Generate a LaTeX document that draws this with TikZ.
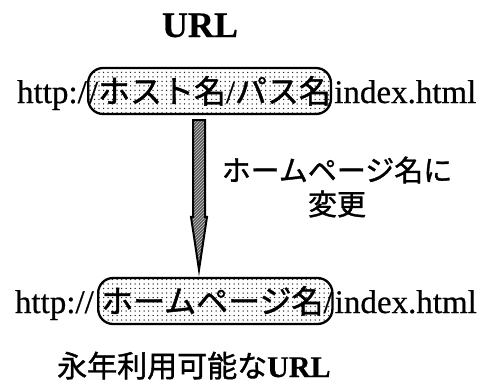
\documentclass[tikz,border=0pt]{standalone}
\usepackage{fontspec}
\setmainfont[FakeBold=0.6]{Liberation Serif}
\newfontfamily\jp[FakeBold=1.2]{Noto Sans CJK JP}
\usetikzlibrary{calc,patterns,patterns.meta}
\tikzdeclarepattern{
  name=mydots,
  type=uncolored,
  bounding box={(-2.25pt,-2.25pt) and (2.25pt,2.25pt)},
  tile size={(4.5pt,4.5pt)},
  code={\fill (0pt,0pt) circle (0.75pt);}
}
\begin{document}
\begin{tikzpicture}[x=1pt,y=-1pt,
  lat/.style={inner sep=0pt,font=\fontsize{33}{38}\selectfont},
  urlbox/.style={draw,line width=2.3pt,rounded corners=15pt,pattern=mydots,pattern color=black!85,
    inner xsep=0pt,inner ysep=7pt,text height=28pt,text depth=4pt,
    font=\fontsize{32}{38}\selectfont},
  bigarrow/.style={preaction={fill=black!65},draw,line width=2pt,pattern=north east lines,pattern color=white!80!black,line join=miter}
]
\useasboundingbox (0,0) rectangle (495,383);
% title
\node[inner sep=0pt,anchor=base,font=\fontsize{36}{40}\selectfont\bfseries] (title) at (200,37) {URL};
% line 1
\node[urlbox,anchor=base west] (box1) at (87,103) {\hspace{1pt}/{\jp ホスト名}/{\jp パス名}\hspace{14pt}};
\node[lat,anchor=base east] (pre1) at (box1.base west) {http:/};
\node[lat,anchor=base west] (post1) at ([xshift=2pt]box1.base east) {index.html};
% line 2
\node[urlbox,anchor=base west] (box2) at (97,313) {\hspace{3pt}{\jp ホームページ名}/\hspace{12pt}};
\node[lat,anchor=base east] (pre2) at ([xshift=-3pt]box2.base west) {http://};
\node[lat,anchor=base west] (post2) at ([xshift=1pt]box2.base east) {index.html};
% arrow
\coordinate (ax) at (199,0);
\coordinate (atop) at ($(box1.south -| ax)+(0,5)$);
\coordinate (atip) at ($(box2.north -| ax)+(0,-7)$);
\path[bigarrow] ($(atop)+(-6,0)$) -- ($(atip)+(-6,-53)$) -- ($(atip)+(-8,-53)$) -- (atip)
  -- ($(atip)+(8,-53)$) -- ($(atip)+(6,-53)$) -- ($(atop)+(6,0)$) -- cycle;
% label
\node[inner sep=0pt,align=center,font=\jp\fontsize{29}{34}\selectfont] (lbl) at (337,187) {ホームページ名に\\変更};
% bottom caption
\node[inner sep=0pt,anchor=base west,font=\fontsize{30}{34}\selectfont] (cap) at (57,377) {{\jp 永年利用可能な}\textbf{URL}};
\end{tikzpicture}
\end{document}
